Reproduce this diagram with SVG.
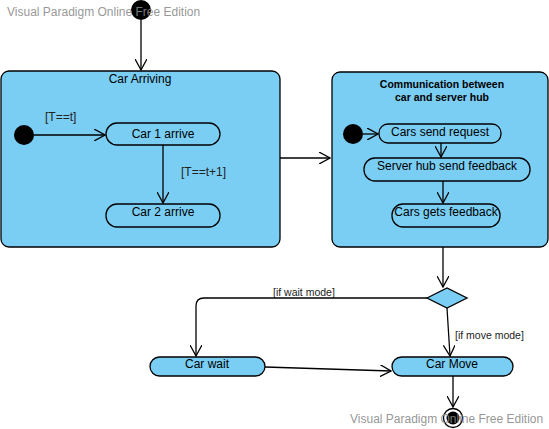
<svg xmlns="http://www.w3.org/2000/svg" width="549" height="429" viewBox="0 0 549 429">
<style>
.c{fill:#7ACEF4;stroke:#000;stroke-width:1.3}
.s{fill:#7ACEF4;stroke:#000;stroke-width:1.3}
.t{font-family:"Liberation Sans",Arial,sans-serif;font-size:12px;fill:#000;text-anchor:middle}
.b{font-family:"Liberation Sans",Arial,sans-serif;font-size:10.5px;font-weight:bold;fill:#000;text-anchor:middle}
.g{font-family:"Liberation Sans",Arial,sans-serif;font-size:12px;fill:#222}
.gs{font-family:"Liberation Sans",Arial,sans-serif;font-size:10.5px;fill:#222}
.e{fill:none;stroke:#000;stroke-width:1.3}
.w{font-family:"Liberation Sans",Arial,sans-serif;font-size:12px;fill:#8a8a8a;fill-opacity:0.9}
</style>
<defs>
<marker id="a" viewBox="0 0 12 12" refX="11" refY="6" markerWidth="12" markerHeight="12" markerUnits="userSpaceOnUse" orient="auto">
<path d="M0,0 L11,6 L0,12" fill="none" stroke="#000" stroke-width="1.3"/>
</marker>
</defs>
<g id="container-car-arriving">
<rect class="c" x="1" y="71" width="279" height="176" rx="8"/>
<text class="t" x="140" y="83">Car Arriving</text>
</g>
<g id="container-communication">
<rect class="c" x="332" y="72" width="216" height="175" rx="8"/>
<text class="b" x="442" y="88">Communication between</text>
<text class="b" x="442" y="101">car and server hub</text>
</g>
<g id="start-top"><circle cx="141" cy="10" r="10" fill="#000"/></g>
<g id="start-1"><circle cx="24" cy="135" r="10" fill="#000"/></g>
<g id="start-2"><circle cx="353" cy="134" r="10" fill="#000"/></g>
<g id="car1"><rect class="s" x="106" y="123" width="114" height="22" rx="11"/><text class="t" x="163" y="138">Car 1 arrive</text></g>
<g id="car2"><rect class="s" x="106" y="204" width="114" height="23" rx="11"/><text class="t" x="163" y="216">Car 2 arrive</text></g>
<g id="send-request"><rect class="s" x="379" y="124" width="122" height="19" rx="9"/><text class="t" x="440" y="136">Cars send request</text></g>
<g id="server-feedback"><rect class="s" x="364" y="158" width="166" height="23" rx="11"/><text class="t" x="447" y="170">Server hub send feedback</text></g>
<g id="gets-feedback"><rect class="s" x="392" y="204" width="108" height="23" rx="11"/><text class="t" x="446" y="216">Cars gets feedback</text></g>
<g id="decision"><polygon class="s" points="427,298 447,288 467,298 447,308"/></g>
<g id="car-wait"><rect class="s" x="150" y="357" width="115" height="19" rx="9.5"/><text class="t" x="207" y="368">Car wait</text></g>
<g id="car-move"><rect class="s" x="392" y="357" width="121" height="19" rx="9.5"/><text class="t" x="452" y="368">Car Move</text></g>
<g id="final"><circle cx="453" cy="418" r="9.5" fill="#fff" stroke="#000" stroke-width="1.3"/><circle cx="453" cy="418" r="6.5" fill="#000"/></g>
<g id="connectors">
<path class="e" d="M141,20 V70" marker-end="url(#a)"/>
<path class="e" d="M34,135 H105" marker-end="url(#a)"/>
<text class="g" x="45" y="121">[T==t]</text>
<path class="e" d="M163,145 V203" marker-end="url(#a)"/>
<text class="g" x="181" y="176">[T==t+1]</text>
<path class="e" d="M280,158 H330" marker-end="url(#a)"/>
<path class="e" d="M363,134 H378" marker-end="url(#a)"/>
<path class="e" d="M441,143 V157" marker-end="url(#a)"/>
<path class="e" d="M443,181 V203" marker-end="url(#a)"/>
<path class="e" d="M443,247 V287" marker-end="url(#a)"/>
<path class="e" d="M427,298 H204 Q196,298 196,306 V356" marker-end="url(#a)"/>
<text class="gs" x="273" y="296">[if wait mode]</text>
<path class="e" d="M447,308 L450,356" marker-end="url(#a)"/>
<text class="gs" x="455" y="339">[if move mode]</text>
<path class="e" d="M265,367 L391,371" marker-end="url(#a)"/>
<path class="e" d="M453,376 V407" marker-end="url(#a)"/>
</g>
<text class="w" x="7" y="16">Visual Paradigm Online Free Edition</text>
<text class="w" x="350" y="423">Visual Paradigm Online Free Edition</text>
</svg>
